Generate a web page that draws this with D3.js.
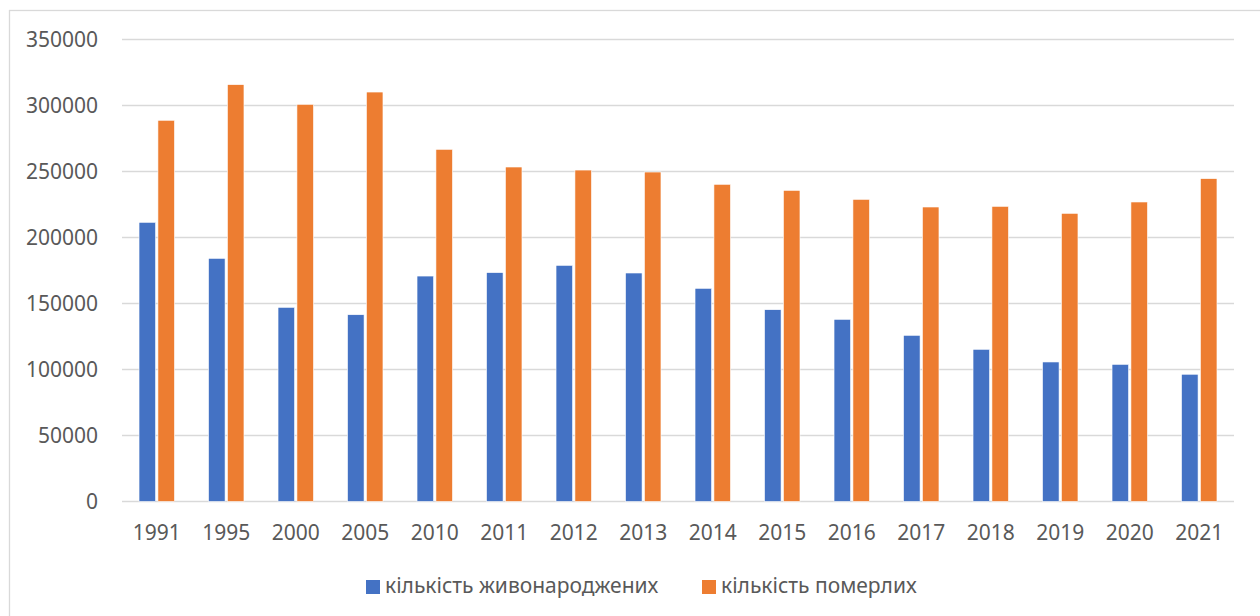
<!DOCTYPE html>
<html><head><meta charset="utf-8">
<script src="https://cdn.jsdelivr.net/npm/d3@7"></script>
<style>html,body{margin:0;padding:0;background:#fff;overflow:hidden}</style>
</head><body>
<svg id="c" width="1260" height="616"></svg>
<script>
const years = ["1991","1995","2000","2005","2010","2011","2012","2013","2014","2015","2016","2017","2018","2019","2020","2021"];
const births = [211500,184200,147100,141500,170800,173400,178900,173100,161500,145300,138000,125900,115300,105700,103900,96400];
const deaths = [288800,315800,300900,310200,266800,253400,251100,249600,240300,235700,228900,223100,223600,218300,226900,244600];
const seriesNames = ["кількість живонароджених","кількість померлих"];
const colors = ["#4472C4","#ED7D31"];
const yTicks = [0,50000,100000,150000,200000,250000,300000,350000];

const svg = d3.select("#c");
const font = "'Noto Sans', 'Open Sans', sans-serif";
const fs = 21;
svg.append("rect").attr("x",9.5).attr("y",10.5).attr("width",1270).attr("height",630)
  .attr("fill","#fff").attr("stroke","#d9d9d9").attr("stroke-width",1.3);

const L=122, R=1234, T=39.5, B=501.5;
const y = d3.scaleLinear().domain([0,350000]).range([B,T]);
const x0 = d3.scaleBand().domain(years).range([L,R]).padding(0);
const x1 = d3.scaleBand().domain([0,1]).range([x0.bandwidth()*0.245, x0.bandwidth()*0.755]).paddingInner(0.125);

// gridlines
svg.append("g").selectAll("line").data(yTicks).join("line")
  .attr("x1",L).attr("x2",R).attr("y1",d=>y(d)).attr("y2",d=>y(d))
  .attr("stroke","#d9d9d9").attr("stroke-width",1.3);

// y labels
svg.append("g").selectAll("text").data(yTicks).join("text")
  .attr("x",98).attr("y",d=>y(d)).attr("dy","0.36em").attr("text-anchor","end")
  .attr("font-family",font).attr("font-size",fs).attr("fill","#595959").text(d=>d);

// bars
const data = years.map((yr,i)=>({yr, vals:[births[i],deaths[i]]}));
const g = svg.append("g").selectAll("g").data(data).join("g")
  .attr("transform",d=>`translate(${x0(d.yr)},0)`);
g.selectAll("rect").data(d=>d.vals.map((v,k)=>({v,k}))).join("rect")
  .attr("x",d=>x1(d.k)).attr("width",x1.bandwidth())
  .attr("y",d=>y(d.v)).attr("height",d=>B-y(d.v))
  .attr("fill",d=>colors[d.k]).attr("stroke","#fff").attr("stroke-width",0.6);

// x labels
svg.append("g").selectAll("text").data(years).join("text")
  .attr("x",d=>x0(d)+x0.bandwidth()/2).attr("y",540)
  .attr("text-anchor","middle").attr("font-family",font).attr("font-size",fs)
  .attr("fill","#595959").text(d=>d);

// legend
const leg = svg.append("g");
const legItems = [{x:366},{x:702}];
legItems.forEach((it,k)=>{
  leg.append("rect").attr("x",it.x).attr("y",580).attr("width",14).attr("height",14).attr("fill",colors[k]);
  leg.append("text").attr("x",it.x+19).attr("y",593).attr("font-family",font).attr("font-size",fs)
    .attr("fill","#595959").text(seriesNames[k]);
});
</script>
</body></html>
